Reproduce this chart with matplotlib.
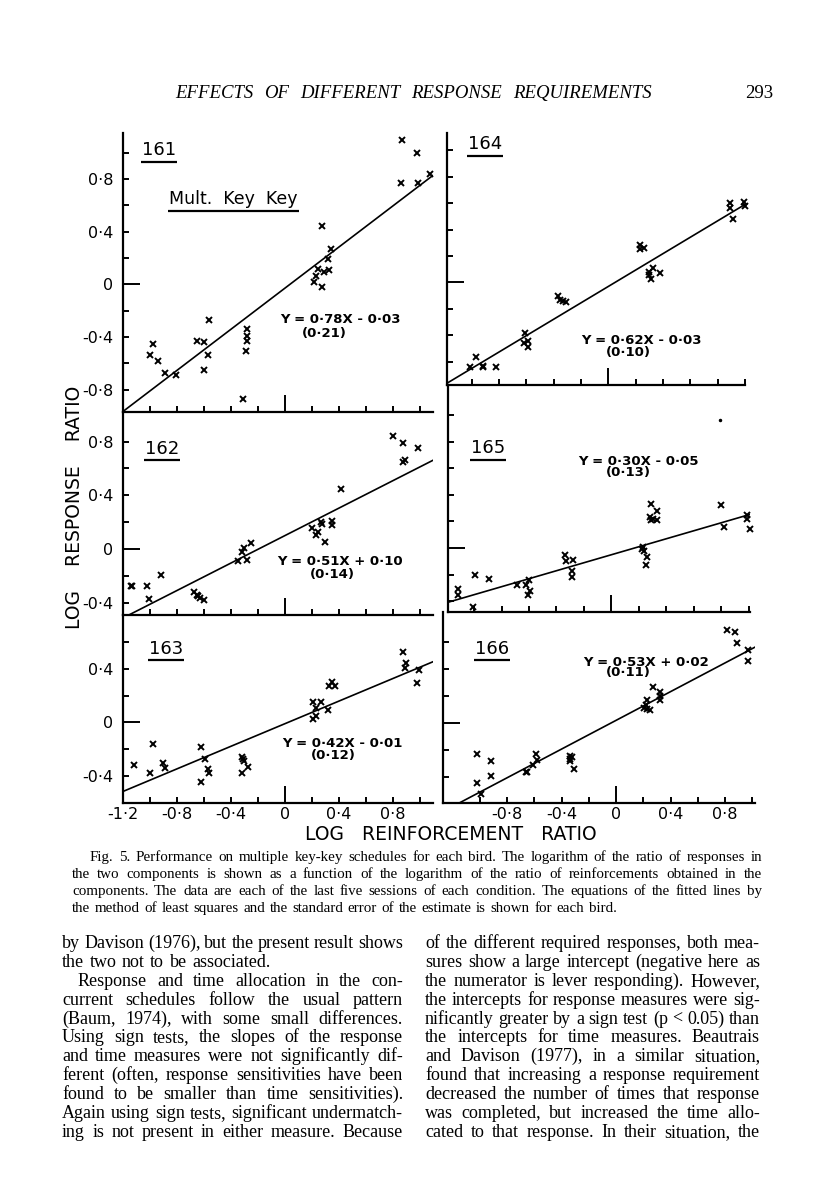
import matplotlib
matplotlib.use('Agg')
import numpy as np
import matplotlib.pyplot as plt

plt.rcParams['font.family'] = ['DejaVu Sans']

# log reinforcement ratio (x) and log response ratio (y)
x161 = [0.87, 0.98, 0.86, 0.99, 1.08, 0.28, 0.34, 0.32, 0.25, 0.29, 0.33, 0.23, 0.22, 0.28,
        -0.56, -0.28, -0.28, -0.28, -0.29, -0.31, -0.65, -0.60, -0.57, -0.60,
        -0.98, -1.00, -0.94, -0.89, -0.81]
y161 = [1.10, 1.00, 0.77, 0.77, 0.84, 0.44, 0.27, 0.19, 0.12, 0.09, 0.11, 0.06, 0.02, -0.02,
        -0.27, -0.34, -0.39, -0.43, -0.51, -0.87, -0.43, -0.44, -0.54, -0.65,
        -0.45, -0.54, -0.58, -0.67, -0.69]

x162 = [0.80, 0.88, 0.99, 0.88, 0.89, 0.42, 0.20, 0.23, 0.25, 0.27, 0.28, 0.35, 0.35, 0.30,
        -0.35, -0.32, -0.30, -0.25, -0.28, -1.14, -1.13, -1.02, -1.01, -0.92,
        -0.67, -0.64, -0.63, -0.60, -0.65]
y162 = [0.84, 0.79, 0.75, 0.65, 0.66, 0.445, 0.16, 0.105, 0.125, 0.20, 0.19, 0.21, 0.18, 0.05,
        -0.09, -0.025, 0.01, 0.045, -0.08, -0.275, -0.275, -0.275, -0.37, -0.19,
        -0.32, -0.35, -0.36, -0.38, -0.34]

x163 = [0.88, 0.90, 0.89, 0.995, 0.98, 0.33, 0.35, 0.37, 0.21, 0.27, 0.23, 0.23, 0.21, 0.32,
        -0.98, -1.12, -1.00, -0.90, -0.89, -0.62, -0.59, -0.57, -0.56, -0.62,
        -0.32, -0.30, -0.32, -0.27, -0.31]
y163 = [0.525, 0.445, 0.405, 0.39, 0.295, 0.275, 0.30, 0.275, 0.155, 0.155, 0.11, 0.05, 0.025, 0.095,
        -0.16, -0.32, -0.38, -0.305, -0.34, -0.18, -0.27, -0.345, -0.375, -0.44,
        -0.26, -0.29, -0.375, -0.33, -0.275]

x164 = [0.89, 0.89, 0.91, 0.99, 1.00, 0.23, 0.26, 0.23, 0.30, 0.33, 0.38, 0.31, 0.30,
        -0.37, -0.35, -0.31, -0.33, -0.61, -0.62, -0.59, -0.59,
        -0.97, -1.01, -0.92, -0.92, -0.82]
y164 = [0.60, 0.56, 0.48, 0.61, 0.58, 0.25, 0.26, 0.28, 0.08, 0.11, 0.07, 0.03, 0.06,
        -0.10, -0.13, -0.15, -0.14, -0.38, -0.46, -0.44, -0.49,
        -0.56, -0.64, -0.64, -0.63, -0.64]

x165 = [0.80, 0.82, 0.99, 0.99, 1.01, 0.29, 0.33, 0.28, 0.30, 0.33, 0.29, 0.23, 0.24, 0.26, 0.25, 0.22,
        -0.34, -0.33, -0.28, -0.29, -0.29, -0.60, -0.625, -0.59, -0.61, -0.69,
        -0.99, -0.89, -1.115, -1.12, -1.01]
y165 = [0.325, 0.155, 0.25, 0.22, 0.14, 0.33, 0.275, 0.23, 0.22, 0.21, 0.21, 0.005, -0.025, -0.07, -0.13, -0.01,
        -0.055, -0.095, -0.09, -0.175, -0.22, -0.24, -0.28, -0.325, -0.355, -0.275,
        -0.20, -0.23, -0.31, -0.35, -0.44]
dot165_x = [0.79]
dot165_y = [0.96]

x166 = [0.815, 0.87, 0.89, 0.97, 0.97, 0.27, 0.32, 0.32, 0.32, 0.23, 0.22, 0.225, 0.25, 0.205,
        -0.34, -0.32, -0.335, -0.34, -0.305, -0.59, -0.58, -0.61, -0.65, -0.66,
        -1.02, -0.92, -0.92, -1.02, -0.99]
y166 = [0.686, 0.674, 0.59, 0.54, 0.46, 0.27, 0.23, 0.20, 0.17, 0.17, 0.13, 0.106, 0.10, 0.11,
        -0.24, -0.25, -0.28, -0.265, -0.34, -0.23, -0.27, -0.31, -0.36, -0.36,
        -0.23, -0.28, -0.39, -0.44, -0.52]

birds = [161, 162, 163, 164, 165, 166]
slopes = [0.78, 0.51, 0.42, 0.62, 0.30, 0.53]
intercepts = [-0.03, 0.10, -0.01, -0.03, -0.05, 0.02]
std_err = [0.21, 0.14, 0.12, 0.10, 0.13, 0.11]
points = {161: (x161, y161), 162: (x162, y162), 163: (x163, y163),
          164: (x164, y164), 165: (x165, y165), 166: (x166, y166)}

header = 'EFFECTS OF DIFFERENT RESPONSE REQUIREMENTS'
page_no = '293'
caption = [
    'Fig. 5. Performance on multiple key-key schedules for each bird. The logarithm of the ratio of responses in',
    'the two components is shown as a function of the logarithm of the ratio of reinforcements obtained in the',
    'components. The data are each of the last five sessions of each condition. The equations of the fitted lines by',
    'the method of least squares and the standard error of the estimate is shown for each bird.',
]
left_text = [
    'by Davison (1976), but the present result shows',
    'the two not to be associated.',
    'Response and time allocation in the con-',
    'current schedules follow the usual pattern',
    '(Baum, 1974), with some small differences.',
    'Using sign tests, the slopes of the response',
    'and time measures were not significantly dif-',
    'ferent (often, response sensitivities have been',
    'found to be smaller than time sensitivities).',
    'Again using sign tests, significant undermatch-',
    'ing is not present in either measure. Because',
]
right_text = [
    'of the different required responses, both mea-',
    'sures show a large intercept (negative here as',
    'the numerator is lever responding). However,',
    'the intercepts for response measures were sig-',
    'nificantly greater by a sign test (p < 0.05) than',
    'the intercepts for time measures. Beautrais',
    'and Davison (1977), in a similar situation,',
    'found that increasing a response requirement',
    'decreased the number of times that response',
    'was completed, but increased the time allo-',
    'cated to that response. In their situation, the',
]

# panel layout in page pixels (left, top, right, bottom)
layout = {
    161: dict(box=(123, 133, 433, 412), xlim=(-1.2, 1.1), ylim=(-0.97, 1.15), yt=(-0.8, 1.0),
              ylab=True, xlab=False, name=(-0.93, 1.02), eq=(0.41, -0.27), se=(0.29, -0.37)),
    162: dict(box=(123, 412, 433, 615), xlim=(-1.2, 1.1), ylim=(-0.49, 1.02), yt=(-0.4, 0.8),
              ylab=True, xlab=False, name=(-0.91, 0.745), eq=(0.41, -0.095), se=(0.35, -0.19)),
    163: dict(box=(123, 615, 433, 803), xlim=(-1.2, 1.1), ylim=(-0.6, 0.8), yt=(-0.4, 0.6),
              ylab=True, xlab=True, name=(-0.88, 0.55), eq=(0.43, -0.16), se=(0.36, -0.25)),
    164: dict(box=(447, 133, 745, 385), xlim=(-1.18, 1.0), ylim=(-0.775, 1.13), yt=(-0.6, 1.0),
              ylab=False, xlab=False, name=(-0.90, 1.045), eq=(0.24, -0.44), se=(0.15, -0.53)),
    165: dict(box=(448, 385, 750, 612), xlim=(-1.19, 1.01), ylim=(-0.48, 1.225), yt=(-0.4, 1.0),
              ylab=False, xlab=False, name=(-0.90, 0.75), eq=(0.20, 0.65), se=(0.125, 0.57)),
    166: dict(box=(443, 612, 755, 803), xlim=(-1.27, 1.02), ylim=(-0.59, 0.82), yt=(-0.4, 0.6),
              ylab=False, xlab=True, name=(-0.91, 0.55), eq=(0.22, 0.45), se=(0.09, 0.37)),
}

W, H = 816, 1200
fig = plt.figure(figsize=(W / 100, H / 100), dpi=100)
page = fig.add_axes([0, 0, 1, 1])
page.set_xlim(0, W)
page.set_ylim(H, 0)
page.axis('off')
r = fig.canvas.get_renderer()


def num(v):
    if abs(v) < 1e-9:
        return '0'
    return f'{v:.1f}'.replace('.', '\u00b7')


def underline(t, pad=2.5, lw=1.6):
    bb = t.get_window_extent(renderer=r)
    (x0, y0), (x1, _) = page.transData.inverted().transform([[bb.x0, bb.y0], [bb.x1, bb.y1]])
    page.plot([x0 - 1, x1 + 1], [y0 + pad, y0 + pad], color='k', lw=lw, solid_capstyle='butt')


def put_line(text, x0, x1, y, justify=True, **kw):
    words = text.split()
    arts = [page.text(x0, y, w, ha='left', va='baseline', **kw) for w in words]
    widths = [a.get_window_extent(renderer=r).width for a in arts]
    if justify and len(words) > 1:
        gap = (x1 - x0 - sum(widths)) / (len(words) - 1)
    else:
        gap = kw.get('fontsize', 10) * 0.42
    x = x0
    for a, w in zip(arts, widths):
        a.set_x(x)
        x += w + gap


for bird, b, a, se in zip(birds, slopes, intercepts, std_err):
    L = layout[bird]
    l, t, rr, bt = L['box']
    ax = fig.add_axes([l / W, 1 - bt / H, (rr - l) / W, (bt - t) / H])
    ax.patch.set_visible(False)
    ax.set_xlim(*L['xlim'])
    ax.set_ylim(*L['ylim'])
    for s in ['top', 'right']:
        ax.spines[s].set_visible(False)
    for s in ['left', 'bottom']:
        ax.spines[s].set_linewidth(1.6)

    xs, ys = points[bird]
    ax.plot(xs, ys, 'x', color='k', ms=4.8, mew=1.4, clip_on=False)
    if bird == 165:
        ax.plot(dot165_x, dot165_y, '.', color='k', ms=3)
    fx = np.array(L['xlim'])
    ax.plot(fx, b * fx + a, color='k', lw=1.2)

    # ticks: long tick at 0, short ticks every 0.2
    xt = [round(v, 1) for v in np.arange(-1.2, 1.01, 0.2)]
    if bird >= 164:
        xt = [v for v in xt if v > -1.1]
    xminor = [v for v in xt if v != 0]
    if L['xlab']:
        xl = [num(v) if abs(v / 0.4 - round(v / 0.4)) < 1e-6 else '' for v in xminor]
        ax.set_xticks([0], ['0'])
    else:
        xl = [''] * len(xminor)
        ax.set_xticks([0], [''])
    ax.set_xticks(xminor, xl, minor=True)

    yt = [round(v, 1) for v in np.arange(L['yt'][0], L['yt'][1] + 0.01, 0.2)]
    yminor = [v for v in yt if v != 0]
    if L['ylab']:
        yl = [num(v) if abs(v / 0.4 - round(v / 0.4)) < 1e-6 else '' for v in yminor]
        ax.set_yticks([0], ['0'])
    else:
        yl = [''] * len(yminor)
        ax.set_yticks([0], [''])
    ax.set_yticks(yminor, yl, minor=True)

    ax.tick_params(which='both', direction='in', width=1.4, labelsize=11.5)
    ax.tick_params(axis='y', which='both', pad=7)
    ax.tick_params(axis='x', which='both', pad=3)
    ax.tick_params(which='major', length=12)
    ax.tick_params(which='minor', length=4.5)

    name = ax.text(*L['name'], str(bird), ha='center', va='center', fontsize=13)
    underline(name)

    sign = '+' if a >= 0 else '-'
    eq = f'Y = {b:.2f}X {sign} {abs(a):.2f}'.replace('.', '\u00b7')
    ax.text(*L['eq'], eq, ha='center', va='center', fontsize=9.5, fontweight='bold')
    ax.text(*L['se'], f'({se:.2f})'.replace('.', '\u00b7'), ha='center', va='center',
            fontsize=9.5, fontweight='bold')

    if bird == 161:
        mk = ax.text(-0.38, 0.65, 'Mult.  Key  Key', ha='center', va='center', fontsize=12.5)
        underline(mk, pad=3)

# axis titles
page.text(75, 507, 'LOG    RESPONSE    RATIO', rotation=90, ha='center', va='center', fontsize=13.5)
page.text(451, 835, 'LOG   REINFORCEMENT   RATIO', ha='center', va='center', fontsize=13.5)

# page text
serif = ['Liberation Serif', 'DejaVu Serif']
put_line(header, 175, 652, 98, family=serif, style='italic', fontsize=13.5)
page.text(745, 98, page_no, ha='left', va='baseline', family=serif, fontsize=13.5)

cap_y = [861, 878, 895, 912]
for i, line in enumerate(caption):
    x0 = 90 if i == 0 else 72
    put_line(line, x0, 762, cap_y[i], justify=(i < len(caption) - 1), family=serif, fontsize=10.8)

for i, line in enumerate(left_text):
    x0 = 78 if i == 2 else 62
    put_line(line, x0, 403, 948 + i * 18.9, justify=(i != 1), family=serif, fontsize=13)
for i, line in enumerate(right_text):
    put_line(line, 425, 760, 948 + i * 18.9, family=serif, fontsize=13)

fig.savefig('out.png', dpi=100)
